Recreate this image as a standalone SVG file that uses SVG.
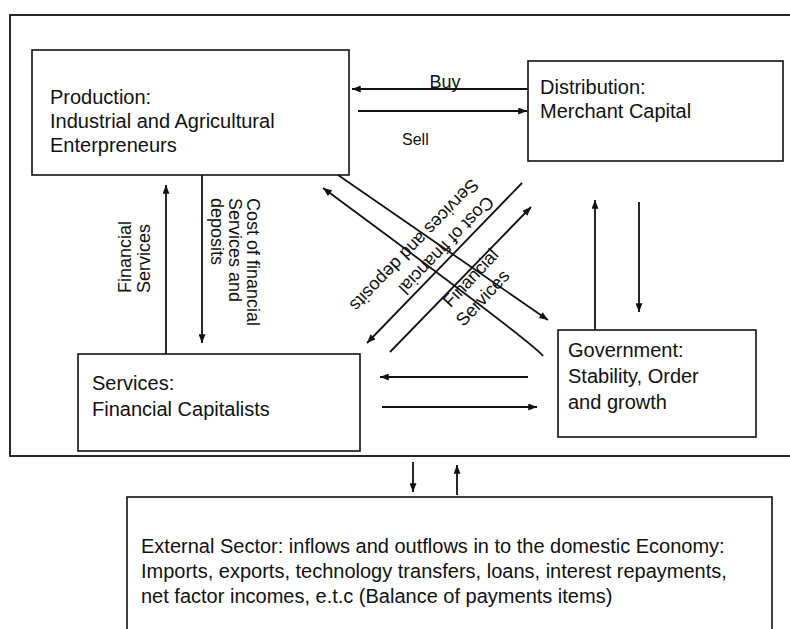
<svg xmlns="http://www.w3.org/2000/svg" width="790" height="629" viewBox="0 0 790 629">
  <style>
    .box { fill: #ffffff; stroke: #111111; stroke-width: 1.6; }
    .frame { fill: none; stroke: #111111; stroke-width: 1.8; }
    .txt { font-family: "Liberation Sans", Arial, sans-serif; font-size: 20px; fill: #111111; }
    .lbl { font-family: "Liberation Sans", Arial, sans-serif; font-size: 18px; fill: #111111; }
    .conn { fill: none; stroke: #111111; stroke-width: 1.8; }
    .arrow { marker-end: url(#head); }
  </style>
  <defs>
    <marker id="head" viewBox="0 0 10 8" refX="10" refY="4" markerWidth="10" markerHeight="7" markerUnits="userSpaceOnUse" orient="auto">
      <path d="M0,0 L10,4 L0,8 z" fill="#111111"/>
    </marker>
  </defs>

  <rect width="790" height="629" fill="#ffffff"/>

  <!-- domestic economy boundary (runs off the right edge) -->
  <rect id="domestic-economy" class="frame" x="10" y="15" width="800" height="441"/>

  <g id="production">
    <rect class="box" x="32" y="50" width="317" height="125"/>
    <text class="txt" x="50" y="104">Production:</text>
    <text class="txt" x="50" y="128">Industrial and Agricultural</text>
    <text class="txt" x="50" y="152">Enterpreneurs</text>
  </g>

  <g id="distribution">
    <rect class="box" x="528" y="61" width="255" height="100"/>
    <text class="txt" x="540" y="94">Distribution:</text>
    <text class="txt" x="540" y="118">Merchant Capital</text>
  </g>

  <g id="services">
    <rect class="box" x="78" y="354" width="282" height="97"/>
    <text class="txt" x="92" y="390">Services:</text>
    <text class="txt" x="92" y="416">Financial Capitalists</text>
  </g>

  <g id="government">
    <rect class="box" x="558" y="330" width="198" height="107"/>
    <text class="txt" x="568" y="357">Government:</text>
    <text class="txt" x="568" y="383">Stability, Order</text>
    <text class="txt" x="568" y="409">and growth</text>
  </g>

  <g id="external-sector">
    <rect class="box" x="127" y="497" width="645" height="150"/>
    <text class="txt" x="141" y="553">External Sector: inflows and outflows in to the domestic Economy:</text>
    <text class="txt" x="141" y="578">Imports, exports, technology transfers, loans, interest repayments,</text>
    <text class="txt" x="141" y="603">net factor incomes, e.t.c (Balance of payments items)</text>
  </g>

  <g id="connectors">
    <!-- production / distribution -->
    <line class="conn arrow" x1="528" y1="89" x2="352" y2="89"/>
    <line class="conn arrow" x1="358" y1="111" x2="527" y2="111"/>
    <!-- production / services -->
    <line class="conn arrow" x1="166" y1="354" x2="166" y2="185"/>
    <line class="conn arrow" x1="202" y1="175" x2="202" y2="343"/>
    <!-- distribution / government -->
    <line class="conn arrow" x1="595" y1="330" x2="595" y2="200"/>
    <line class="conn arrow" x1="639" y1="202" x2="639" y2="312"/>
    <!-- services / government -->
    <line class="conn arrow" x1="528" y1="377" x2="380" y2="377"/>
    <line class="conn arrow" x1="382" y1="407" x2="537" y2="407"/>
    <!-- production / government diagonals -->
    <line class="conn arrow" x1="338" y1="175" x2="548" y2="320"/>
    <path class="conn arrow" d="M543,356 Q532,342 323,188"/>
    <!-- distribution / services diagonals -->
    <line class="conn arrow" x1="522" y1="183" x2="367" y2="343"/>
    <line class="conn arrow" x1="390" y1="352" x2="531" y2="207"/>
    <!-- domestic economy / external sector -->
    <line class="conn arrow" x1="413" y1="462" x2="413" y2="492"/>
    <line class="conn arrow" x1="457" y1="495" x2="457" y2="465"/>
  </g>

  <g id="labels">
    <text class="lbl" x="445" y="88" text-anchor="middle">Buy</text>
    <text class="lbl" x="402" y="145" style="font-size:16px">Sell</text>

    <text class="lbl" transform="translate(131,293) rotate(-90)">Financial</text>
    <text class="lbl" transform="translate(150,293) rotate(-90)">Services</text>

    <text class="lbl" transform="translate(247,198) rotate(90)">Cost of financial</text>
    <text class="lbl" transform="translate(229,198) rotate(90)">Services and</text>
    <text class="lbl" transform="translate(211,198) rotate(90)">deposits</text>

    <text class="lbl" text-anchor="middle" transform="translate(442,241) rotate(134)">Cost of financial</text>
    <text class="lbl" text-anchor="middle" transform="translate(410,241) rotate(134)">Services and deposits</text>

    <text class="lbl" text-anchor="middle" transform="translate(475,282) rotate(-47)">Financial</text>
    <text class="lbl" text-anchor="middle" transform="translate(487,302) rotate(-47)">Services</text>
  </g>
</svg>
